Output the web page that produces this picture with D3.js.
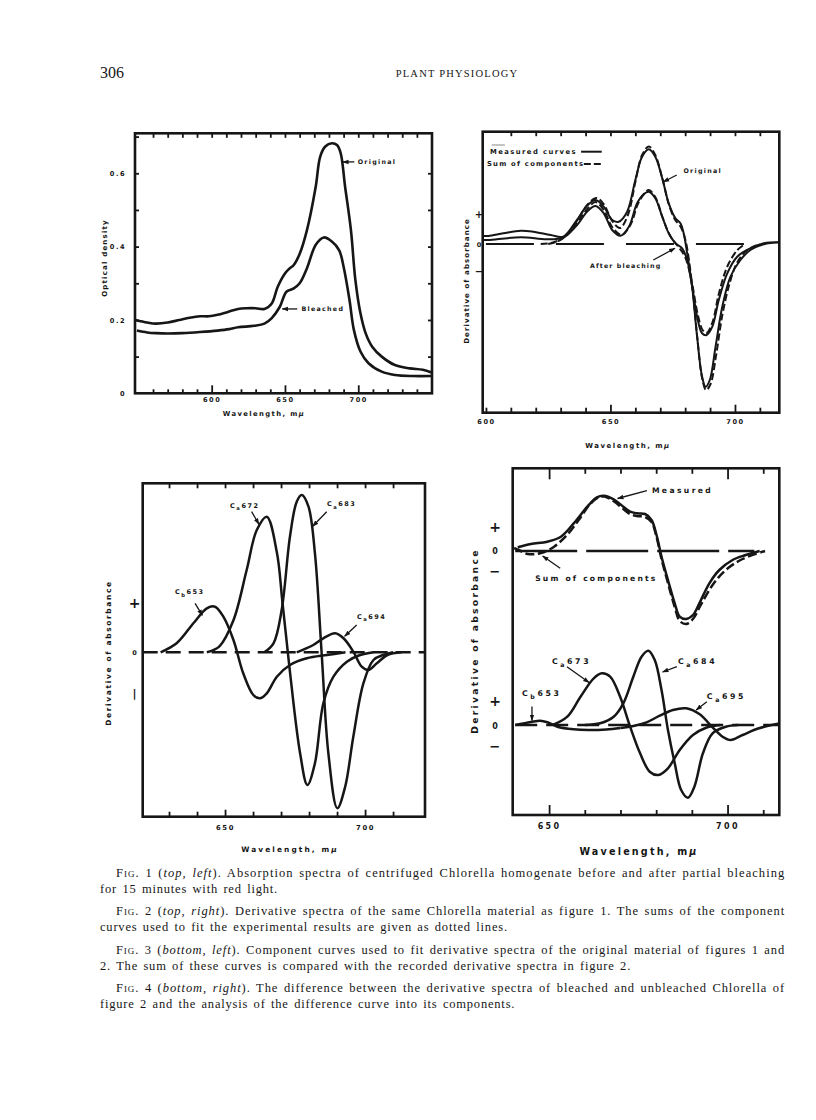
<!DOCTYPE html>
<html>
<head>
<meta charset="utf-8">
<script src="https://cdn.jsdelivr.net/npm/d3@7"></script>
<style>
  body { margin: 0; background: #fff; }
  .fig text { font-family: "DejaVu Sans", sans-serif; font-weight: bold; fill: #161616; }
  .cap { font-family: "Liberation Serif", serif; font-size: 12.5px; letter-spacing: 0.8px; word-spacing: 1.5px; fill: #161616; }
  .head { font-family: "Liberation Serif", serif; fill: #161616; }
</style>
</head>
<body>
<div id="page"></div>
<script>
// ---------- Fig. 1: optical density ----------
var fig1OrigNm = [548, 556, 562, 570, 578, 585, 592, 598, 604, 611, 618, 624, 630, 636, 641, 645, 650, 653, 656, 660, 665, 671, 674, 677.5, 682, 685.5, 688, 691, 695, 698, 701.5, 705, 709.5, 716, 725, 735, 744, 750];
var fig1OrigOD = [0.200, 0.193, 0.190, 0.193, 0.200, 0.206, 0.210, 0.210, 0.214, 0.222, 0.230, 0.232, 0.232, 0.230, 0.245, 0.290, 0.327, 0.340, 0.350, 0.380, 0.445, 0.564, 0.645, 0.673, 0.682, 0.677, 0.655, 0.564, 0.445, 0.310, 0.218, 0.164, 0.127, 0.100, 0.077, 0.068, 0.064, 0.057];
var fig1BleachNm = [549, 556, 562, 570, 580, 592, 604, 612, 618, 629, 636, 641, 646.5, 651, 656, 660, 665, 671, 676.5, 682, 687, 690, 694, 697, 701.5, 707, 716, 725, 737, 750];
var fig1BleachOD = [0.171, 0.166, 0.164, 0.163, 0.164, 0.167, 0.171, 0.175, 0.180, 0.184, 0.190, 0.205, 0.236, 0.277, 0.286, 0.300, 0.341, 0.405, 0.425, 0.414, 0.390, 0.345, 0.255, 0.173, 0.114, 0.082, 0.059, 0.050, 0.047, 0.047];
var fig1XTicks = d3.range(560, 750, 10);
var fig1XLabels = [600, 650, 700];
var fig1YTicks = [0.1, 0.2, 0.3, 0.4, 0.5, 0.6, 0.7];
var fig1YLabels = [0, 0.2, 0.4, 0.6];

// ---------- Fig. 2: derivative spectra ----------
var fig2OrigNm = [599, 601, 607, 614, 619, 626, 631, 636.5, 640.5, 644, 647.3, 650.7, 653.3, 656.7, 660, 662.7, 665.4, 668, 670.8, 673.4, 676.1, 678.1, 679.4, 680.8, 682.8, 684.8, 686.8, 688.2, 689.9, 692.2, 694.9, 698.2, 702.2, 706.2, 711.6, 717.8];
var fig2OrigVal = [0.8, 0.8, 1.07, 1.33, 1.23, 0.9, 0.73, 2.4, 3.8, 4.4, 3.73, 2.4, 2.23, 3.23, 6.4, 8.73, 9.47, 8.73, 6.57, 4.07, 2.57, 2.07, 1.07, -0.93, -4.27, -9.27, -13.27, -14.27, -13.6, -10.27, -6.27, -3.27, -1.6, -0.6, -0.03, 0.17];
var fig2BleachNm = [599, 601, 614, 624.6, 631.2, 636.6, 640.6, 644, 647.3, 650.7, 654, 657.4, 660.7, 663.4, 665.4, 668, 670.8, 673.4, 676.1, 678.8, 680.8, 682.8, 684.8, 686.8, 688.6, 690.9, 693.5, 696.9, 700.9, 706.2, 711.6, 717.8];
var fig2BleachVal = [0.4, 0.4, 0.67, 0.47, 0.67, 1.9, 3.23, 3.8, 3.07, 1.4, 0.83, 1.73, 4.07, 5.0, 5.23, 4.57, 2.73, 1.07, 0.07, -0.43, -1.6, -4.27, -7.27, -8.93, -9.1, -8.27, -5.6, -2.93, -1.27, -0.43, 0.07, 0.17];
var fig2OrigSumNm = [622, 627, 632, 637, 641, 644.5, 647.5, 650.7, 653.8, 657, 660, 662.7, 665.4, 668, 670.8, 673.4, 676, 678, 680, 682.8, 684.8, 686.8, 688.4, 690.2, 692.5, 695, 698, 701, 705, 710];
var fig2OrigSumVal = [0, 0.15, 0.8, 2.5, 4.0, 4.6, 3.9, 2.3, 1.6, 2.9, 6.2, 8.9, 9.75, 8.9, 6.6, 4.0, 2.4, 1.8, 0.5, -4.1, -9.2, -13.4, -14.6, -14.0, -11.0, -7.0, -3.8, -1.8, -0.6, 0];
var fig2BleachSumNm = [625, 629, 633, 637, 641, 644, 647.3, 650.7, 654.5, 658, 661, 663.5, 665.4, 668, 671, 674, 677, 680, 682.8, 685, 687, 688.6, 691, 693.5, 697, 701, 704];
var fig2BleachSumVal = [0, 0.3, 1.0, 2.3, 3.6, 4.2, 3.4, 1.7, 0.9, 1.9, 4.0, 5.0, 5.4, 4.7, 2.6, 0.8, -0.2, -1.3, -4.0, -7.0, -8.6, -8.9, -7.8, -5.0, -2.2, -0.6, 0];
var fig2XTicks = d3.range(600, 720, 10);
var fig2XLabels = [600, 650, 700];

// ---------- Fig. 3: component curves ----------
var fig3Cb653Nm = [627, 632.7, 638.7, 643.5, 646.4, 649.4, 653, 656.5, 660.1, 662.4, 664.9, 668.5, 673.2, 679.2, 686.4, 693];
var fig3Cb653Val = [0, 0.9, 2.9, 4.4, 4.56, 3.56, 1.23, -2.1, -4.27, -4.6, -4.1, -2.44, -1.27, -0.6, -0.27, 0];
var fig3Ca672Nm = [643.5, 648, 653, 657.7, 661.3, 664.9, 668.5, 670.5, 673, 676.8, 679.4, 682.1, 685.1, 688.7, 693.5, 698, 703];
var fig3Ca672Val = [0, 0.6, 3.2, 8.2, 12.2, 13.56, 10.0, 5.0, -1.5, -10.1, -13.27, -11.1, -5.1, -2.44, -0.94, -0.3, 0];
var fig3Ca683Nm = [664, 667.3, 670.2, 673.2, 675.6, 677.4, 679.8, 682.1, 684.5, 686.9, 690.1, 692.9, 695.8, 699.4, 703, 706.5, 710];
var fig3Ca683Val = [0, 0.9, 4.2, 11.6, 15.06, 15.73, 14.56, 9.9, -0.1, -10.1, -15.6, -13.44, -8.44, -3.1, -0.77, -0.27, 0];
var fig3Ca694Nm = [675.6, 681.5, 685.1, 689.3, 692.3, 695.8, 698.8, 701.2, 704.2, 708, 713];
var fig3Ca694Val = [0, 0.73, 1.4, 1.9, 1.4, 0.07, -1.44, -1.77, -1.1, -0.27, 0];
var fig3XTicks = d3.range(630, 720, 10);
var fig3XLabels = [650, 700];

// ---------- Fig. 4: difference spectrum and components ----------
var fig4MeasNm = [641.2, 644.9, 649.5, 653.3, 656.9, 660.7, 663.4, 665.3, 668.1, 670.8, 672.7, 674.6, 676.9, 678.7, 680.1, 681.5, 683.3, 685.2, 686.6, 688.4, 690.3, 692.1, 694.9, 697.7, 701.4, 705.1, 709];
var fig4MeasVal = [0.37, 0.7, 0.93, 1.43, 2.77, 4.43, 5.37, 5.53, 5.17, 4.43, 3.93, 3.77, 3.7, 3.1, 1.6, -0.57, -2.9, -5.23, -6.57, -6.8, -6.4, -5.23, -3.23, -1.9, -0.9, -0.4, 0];
var fig4SumNm = [640.2, 641.5, 644, 647.7, 651.4, 655.1, 658.5, 661.5, 663.8, 665.5, 668, 670.8, 672.7, 674.6, 676.9, 678.7, 680.1, 681.5, 683.3, 685.2, 686.6, 688.4, 690.3, 692.5, 695.8, 699.5, 704.2, 710.5];
var fig4SumVal = [0.3, 0.1, -0.3, -0.2, 0.43, 1.63, 3.2, 4.7, 5.35, 5.45, 5.0, 4.2, 3.7, 3.5, 3.4, 2.9, 1.4, -0.8, -3.2, -5.6, -7.0, -7.3, -6.8, -5.4, -3.4, -1.9, -0.8, 0];
var fig4Cb653Nm = [640.5, 644.9, 647.5, 649.5, 652.3, 656.9, 661, 666, 670];
var fig4Cb653Val = [0, 0.3, 0.43, 0.27, -0.17, -0.43, -0.5, -0.45, -0.3];
var fig4Ca673Nm = [651, 655.1, 658.8, 662.5, 664.8, 667.1, 669.9, 672.7, 675.5, 678.2, 680.6, 683.3, 686.6, 690.3, 694, 698];
var fig4Ca673Val = [0, 0.83, 2.83, 4.67, 5.17, 4.83, 2.83, -0.17, -2.83, -4.67, -5.0, -4.33, -2.5, -1.0, -0.27, 0];
var fig4Ca684Nm = [660, 664.3, 668.1, 670.8, 673.6, 675.9, 677.8, 679.6, 681.5, 683.3, 685.2, 687, 688.9, 690.7, 693.1, 695.8, 699.5, 703];
var fig4Ca684Val = [0, 0.17, 0.83, 2.17, 4.83, 6.83, 7.43, 6.5, 3.5, -0.5, -3.83, -6.5, -7.27, -6.17, -2.83, -0.83, -0.17, 0];
var fig4Ca695Nm = [670, 673.6, 677.3, 681, 684.7, 688.4, 692.1, 695.8, 698.6, 700.9, 704.2, 708.8, 714.5];
var fig4Ca695Val = [-0.3, -0.1, 0.27, 0.93, 1.5, 1.67, 1.1, -0.23, -1.17, -1.5, -1.0, -0.33, 0.15];
var fig4XTicks = d3.range(650, 720, 10);
var fig4XLabels = [650, 700];

var INK = "#161616";

var svg = d3.select("#page").append("svg")
    .attr("width", 816)
    .attr("height", 1120);

var defs = svg.append("defs");
defs.append("marker")
    .attr("id", "ah")
    .attr("viewBox", "0 0 10 10")
    .attr("refX", 9).attr("refY", 5)
    .attr("markerWidth", 5).attr("markerHeight", 5)
    .attr("orient", "auto")
  .append("path")
    .attr("d", "M0,1.5L10,5L0,8.5z")
    .attr("fill", INK);

var smooth = d3.curveCatmullRom.alpha(0.5);

function frame(g, x, y) {
  var xr = x.range(), yr = y.range();
  g.append("rect")
      .attr("x", xr[0]).attr("y", yr[1])
      .attr("width", xr[1] - xr[0]).attr("height", yr[0] - yr[1])
      .attr("fill", "none").attr("stroke", INK).attr("stroke-width", 2.6);
}

function xAxis(g, x, ypos, top, opts) {
  var ax = (top ? d3.axisTop(x) : d3.axisBottom(x))
      .tickValues(opts.ticks)
      .tickSizeInner(-opts.len)
      .tickSizeOuter(0)
      .tickPadding(opts.pad || 6)
      .tickFormat(function(d) { return (!top && opts.labels.indexOf(d) >= 0) ? d : ""; });
  var a = g.append("g")
      .attr("transform", "translate(0," + ypos + ")")
      .call(ax)
      .attr("font-size", opts.fs || 6)
      .attr("letter-spacing", opts.ls || 1);
  a.select(".domain").remove();
  a.selectAll(".tick line")
      .attr("stroke", INK).attr("stroke-width", 1.8)
      .attr("y2", function(d) {
        var l = (opts.major || []).indexOf(d) >= 0 ? opts.majorLen : opts.len;
        return top ? l : -l;
      });
}

function curve(g, x, y, nm, vals, w, dash) {
  g.append("path")
      .datum(d3.zip(nm, vals))
      .attr("d", d3.line()
          .x(function(d) { return x(d[0]); })
          .y(function(d) { return y(d[1]); })
          .curve(smooth))
      .attr("fill", "none")
      .attr("stroke", INK)
      .attr("stroke-width", w)
      .attr("stroke-linejoin", "round")
      .attr("stroke-dasharray", dash || null);
}

function zeroLine(g, x, y, from, to, dash, w) {
  g.append("line")
      .attr("x1", x(from)).attr("x2", x(to))
      .attr("y1", y(0)).attr("y2", y(0))
      .attr("stroke", INK).attr("stroke-width", w || 2.2)
      .attr("stroke-dasharray", dash);
}

function arrow(g, x, y, a, b, w) {
  g.append("line")
      .attr("x1", x(a[0])).attr("y1", y(a[1]))
      .attr("x2", x(b[0])).attr("y2", y(b[1]))
      .attr("stroke", INK).attr("stroke-width", w || 1.3)
      .attr("marker-end", "url(#ah)");
}

function label(g, x, y, pos, txt, fs, ls) {
  g.append("text")
      .attr("x", x(pos[0])).attr("y", y(pos[1]))
      .attr("dy", "0.35em")
      .attr("font-size", fs).attr("letter-spacing", ls)
      .text(txt);
}

function chem(g, x, y, pos, sub, num, fs, ls) {
  var t = g.append("text")
      .attr("x", x(pos[0])).attr("y", y(pos[1]))
      .attr("dy", "0.35em")
      .attr("font-size", fs).attr("letter-spacing", ls);
  t.append("tspan").text("C");
  t.append("tspan").attr("font-size", fs * 0.8).attr("dy", fs * 0.35).text(sub);
  t.append("tspan").attr("dy", -fs * 0.35).text(num);
}

function yTitle(g, px, py, txt, fs, ls) {
  g.append("text")
      .attr("transform", "translate(" + px + "," + py + ") rotate(-90)")
      .attr("text-anchor", "middle")
      .attr("dy", "0.35em")
      .attr("font-size", fs).attr("letter-spacing", ls)
      .text(txt);
}

function xTitle(g, px, py, fs, ls) {
  var t = g.append("text")
      .attr("x", px).attr("y", py)
      .attr("text-anchor", "middle")
      .attr("font-size", fs).attr("letter-spacing", ls);
  t.append("tspan").text("Wavelength, m");
  t.append("tspan").attr("font-style", "italic").text("\u03bc");
}

function signs(g, px, y, marks, fs) {
  marks.forEach(function(m) {
    g.append("text")
        .attr("x", px + (m.dx || 0)).attr("y", y(m.v))
        .attr("dy", "0.36em")
        .attr("text-anchor", "middle")
        .attr("font-size", m.fs || fs)
        .text(m.t);
  });
}

// ================= Fig. 1 =================
var g1 = svg.append("g").attr("class", "fig");
var x1 = d3.scaleLinear().domain([547.7, 750.3]).range([135, 432]);
var y1 = d3.scaleLinear().domain([0, 0.709]).range([393.3, 133.3]);

frame(g1, x1, y1);
xAxis(g1, x1, 393.3, false, {ticks: fig1XTicks, labels: fig1XLabels, len: 4, major: fig1XLabels, majorLen: 8, pad: 4.5, fs: 6.6, ls: 1.6});
xAxis(g1, x1, 133.3, true, {ticks: fig1XTicks, labels: [], len: 4.5});

var ly = g1.append("g")
    .attr("transform", "translate(135,0)")
    .call(d3.axisLeft(y1).tickValues(fig1YTicks.concat([0])).tickSizeInner(-4).tickSizeOuter(0).tickPadding(9)
      .tickFormat(function(d) { return fig1YLabels.indexOf(d) >= 0 ? (d === 0 ? "0" : d3.format(".1f")(d)) : ""; }))
    .attr("font-size", 6.6).attr("letter-spacing", 1.5);
ly.select(".domain").remove();
ly.selectAll(".tick line").attr("stroke", INK).attr("stroke-width", 1.8)
    .attr("x2", function(d) { return d === 0 ? 0 : 4; });

var ry = g1.append("g").attr("transform", "translate(432,0)")
    .call(d3.axisRight(y1).tickValues(fig1YTicks.slice(0, 6)).tickSizeInner(-4).tickSizeOuter(0).tickFormat(""));
ry.select(".domain").remove();
ry.selectAll(".tick line").attr("stroke", INK).attr("stroke-width", 1.8);

curve(g1, x1, y1, fig1OrigNm, fig1OrigOD, 2.6);
curve(g1, x1, y1, fig1BleachNm, fig1BleachOD, 2.6);

arrow(g1, x1, y1, [697.3, 0.631], [689.4, 0.631]);
label(g1, x1, y1, [699.6, 0.631], "Original", 6.3, 1.3);
arrow(g1, x1, y1, [658.4, 0.23], [648.2, 0.23]);
label(g1, x1, y1, [661.2, 0.23], "Bleached", 6.3, 1.3);

yTitle(g1, 105, 258, "Optical density", 7, 1.2);
xTitle(g1, 264, 416, 6.8, 1.4);

// ================= Fig. 2 =================
var g2 = svg.append("g").attr("class", "fig");
var x2 = d3.scaleLinear().domain([598.7, 717.8]).range([482.7, 779.3]);
var y2 = d3.scaleLinear().domain([-16.87, 11.23]).range([412.7, 131.7]);

frame(g2, x2, y2);
xAxis(g2, x2, 412.7, false, {ticks: fig2XTicks, labels: fig2XLabels, len: 5, major: [650, 700], majorLen: 8, pad: 6.5, fs: 6.6, ls: 1.5});
xAxis(g2, x2, 131.7, true, {ticks: fig2XTicks.slice(1), labels: [], len: 4.5});

zeroLine(g2, x2, y2, 600, 704, "48,22", 2.2);
curve(g2, x2, y2, fig2OrigNm, fig2OrigVal, 2.0);
curve(g2, x2, y2, fig2BleachNm, fig2BleachVal, 2.0);
curve(g2, x2, y2, fig2OrigSumNm, fig2OrigSumVal, 2.0, "7,3");
curve(g2, x2, y2, fig2BleachSumNm, fig2BleachSumVal, 2.0, "7,3");

// legend
label(g2, x2, y2, [601.6, 9.23], "Measured curves", 6.8, 1.45);
g2.append("line").attr("x1", x2(638.2)).attr("x2", x2(646.5)).attr("y1", y2(9.23)).attr("y2", y2(9.23))
    .attr("stroke", INK).attr("stroke-width", 2);
label(g2, x2, y2, [600.4, 8.0], "Sum of components", 6.8, 1.25);
g2.append("line").attr("x1", x2(639.3)).attr("x2", x2(646.5)).attr("y1", y2(8.0)).attr("y2", y2(8.0))
    .attr("stroke", INK).attr("stroke-width", 2).attr("stroke-dasharray", "7,3");
g2.append("line").attr("x1", x2(602.3)).attr("x2", x2(607.6)).attr("y1", y2(9.9)).attr("y2", y2(9.9))
    .attr("stroke", "#888").attr("stroke-width", 1);

label(g2, x2, y2, [679.3, 7.3], "Original", 6.3, 1.3);
arrow(g2, x2, y2, [676.6, 6.9], [671.2, 6.2]);
label(g2, x2, y2, [641.8, -2.17], "After bleaching", 6.3, 1.1);
arrow(g2, x2, y2, [667.2, -1.6], [675.9, -0.43]);

signs(g2, 479, y2, [{v: 3.0, t: "+", fs: 10}, {v: -0.05, t: "0"}, {v: -2.75, t: "\u2212", fs: 10}], 6.5);
yTitle(g2, 467, 281, "Derivative of absorbance", 7, 1.1);
xTitle(g2, 628, 447.5, 7, 1.5);

// ================= Fig. 3 =================
var g3 = svg.append("g").attr("class", "fig");
var x3 = d3.scaleLinear().domain([620.6, 721.4]).range([142.7, 425]);
var y3 = d3.scaleLinear().domain([-16.44, 16.9]).range([816.7, 483.3]);

frame(g3, x3, y3);
xAxis(g3, x3, 816.7, false, {ticks: fig3XTicks, labels: fig3XLabels, len: 5, major: [650, 700], majorLen: 7, pad: 8, fs: 6.8, ls: 1.6});
xAxis(g3, x3, 483.3, true, {ticks: fig3XTicks, labels: [], len: 5});

zeroLine(g3, x3, y3, 620.6, 721.4, "15,8", 2.4);
curve(g3, x3, y3, fig3Cb653Nm, fig3Cb653Val, 2.5);
curve(g3, x3, y3, fig3Ca672Nm, fig3Ca672Val, 2.5);
curve(g3, x3, y3, fig3Ca683Nm, fig3Ca683Val, 2.5);
curve(g3, x3, y3, fig3Ca694Nm, fig3Ca694Val, 2.5);

chem(g3, x3, y3, [632.1, 6.03], "b", "653", 6.5, 1.5);
arrow(g3, x3, y3, [639.3, 4.9], [641.9, 3.7]);
chem(g3, x3, y3, [651.8, 14.66], "a", "672", 6.5, 1.5);
arrow(g3, x3, y3, [659.5, 14.06], [662.1, 12.8]);
chem(g3, x3, y3, [686.4, 14.83], "a", "683", 6.5, 1.5);
arrow(g3, x3, y3, [686.3, 14.06], [681.3, 12.6]);
chem(g3, x3, y3, [697.1, 3.56], "a", "694", 6.5, 1.5);
arrow(g3, x3, y3, [697.0, 2.73], [692.7, 1.6]);

signs(g3, 134.5, y3, [{v: 4.9, t: "+", fs: 14}, {v: -0.05, t: "0"}, {v: -4.1, t: "|", fs: 11}], 6.5);
yTitle(g3, 108, 653, "Derivative of absorbance", 7.4, 1.7);
xTitle(g3, 290, 852, 7.4, 2.1);

// ================= Fig. 4 =================
var g4 = svg.append("g").attr("class", "fig");
var x4 = d3.scaleLinear().domain([639.8, 714.5]).range([512.7, 779.3]);
var y4u = d3.scaleLinear().domain([-8, 8]).range([631, 471]);
var y4l = d3.scaleLinear().domain([-8, 8]).range([805, 645]);
var y4frame = d3.scaleLinear().domain([0, 1]).range([815, 468.3]);

frame(g4, x4, y4frame);
xAxis(g4, x4, 815, false, {ticks: fig4XTicks, labels: fig4XLabels, len: 5, major: [650, 700], majorLen: 10, pad: 8.5, fs: 8, ls: 2.4});
xAxis(g4, x4, 468.3, true, {ticks: fig4XTicks, labels: [], len: 5.5, major: [650, 700], majorLen: 11});

zeroLine(g4, x4, y4u, 640.5, 707.5, "62,9", 2.3);
curve(g4, x4, y4u, fig4MeasNm, fig4MeasVal, 2.5);
curve(g4, x4, y4u, fig4SumNm, fig4SumVal, 2.5, "9,3.5");
label(g4, x4, y4u, [678.8, 6.1], "Measured", 7.6, 2.4);
arrow(g4, x4, y4u, [677.4, 6.03], [669.2, 5.25]);
label(g4, x4, y4u, [646.1, -2.73], "Sum of components", 7.6, 2.2);
arrow(g4, x4, y4u, [653.1, -1.73], [648.2, -0.5]);

zeroLine(g4, x4, y4l, 640.5, 714.3, "22,9", 2.3);
curve(g4, x4, y4l, fig4Cb653Nm, fig4Cb653Val, 2.5);
curve(g4, x4, y4l, fig4Ca673Nm, fig4Ca673Val, 2.5);
curve(g4, x4, y4l, fig4Ca684Nm, fig4Ca684Val, 2.5);
curve(g4, x4, y4l, fig4Ca695Nm, fig4Ca695Val, 2.5);

chem(g4, x4, y4l, [642.4, 3.17], "b", "653", 7.8, 2.6);
arrow(g4, x4, y4l, [645.2, 1.85], [645.2, 0.45]);
chem(g4, x4, y4l, [650.8, 6.33], "a", "673", 7.8, 2.6);
arrow(g4, x4, y4l, [655, 5.83], [661.2, 4.25]);
chem(g4, x4, y4l, [686.1, 6.33], "a", "684", 7.8, 2.6);
arrow(g4, x4, y4l, [685.8, 5.83], [681.8, 5.3]);
chem(g4, x4, y4l, [694.2, 2.83], "a", "695", 7.8, 2.6);
arrow(g4, x4, y4l, [694.2, 2.33], [691.2, 1.5]);

signs(g4, 495, y4u, [{v: 2.37, t: "+", fs: 14}, {v: -0.05, t: "0"}, {v: -2.07, t: "\u2212", fs: 13}], 8);
signs(g4, 495, y4l, [{v: 2.4, t: "+", fs: 14}, {v: -0.1, t: "0"}, {v: -2.1, t: "\u2212", fs: 13}], 8);
yTitle(g4, 475, 641, "Derivative of absorbance", 9.2, 2.3);
xTitle(g4, 639, 855, 9.6, 2.2);

// ================= page header and captions =================
svg.append("text").attr("class", "head").attr("x", 100).attr("y", 78)
    .attr("font-size", 16).text("306");
svg.append("text").attr("class", "head").attr("x", 457).attr("y", 77)
    .attr("text-anchor", "middle").attr("font-size", 10.5).attr("letter-spacing", 1.2)
    .text("PLANT PHYSIOLOGY");

var captionLines = [
  {x: 116, y: 877, full: true, parts: [["Fig.", "s"], [" 1 (", "n"], ["top, left", "i"], [").  Absorption spectra of centrifuged Chlorella homogenate before and after partial bleaching", "n"]]},
  {x: 100, y: 893, parts: [["for 15 minutes with red light.", "n"]]},
  {x: 116, y: 915, full: true, parts: [["Fig.", "s"], [" 2 (", "n"], ["top, right", "i"], [").  Derivative spectra of the same Chlorella material as figure 1.  The sums of the component", "n"]]},
  {x: 100, y: 931, parts: [["curves used to fit the experimental results are given as dotted lines.", "n"]]},
  {x: 116, y: 954, full: true, parts: [["Fig.", "s"], [" 3 (", "n"], ["bottom, left", "i"], [").  Component curves used to fit derivative spectra of the original material of figures 1 and", "n"]]},
  {x: 100, y: 970, parts: [["2.  The sum of these curves is compared with the recorded derivative spectra in figure 2.", "n"]]},
  {x: 116, y: 992, full: true, parts: [["Fig.", "s"], [" 4 (", "n"], ["bottom, right", "i"], [").  The difference between the derivative spectra of bleached and unbleached Chlorella of", "n"]]},
  {x: 100, y: 1008, parts: [["figure 2 and the analysis of the difference curve into its components.", "n"]]}
];

captionLines.forEach(function(line) {
  var t = svg.append("text").attr("class", "cap")
      .attr("x", line.x).attr("y", line.y);
  if (line.full) t.attr("textLength", 785 - line.x).attr("lengthAdjust", "spacing");
  line.parts.forEach(function(p) {
    var s = t.append("tspan").text(p[0]);
    if (p[1] === "i") s.attr("font-style", "italic");
    if (p[1] === "s") s.style("font-variant", "small-caps");
  });
});
</script>
</body>
</html>
